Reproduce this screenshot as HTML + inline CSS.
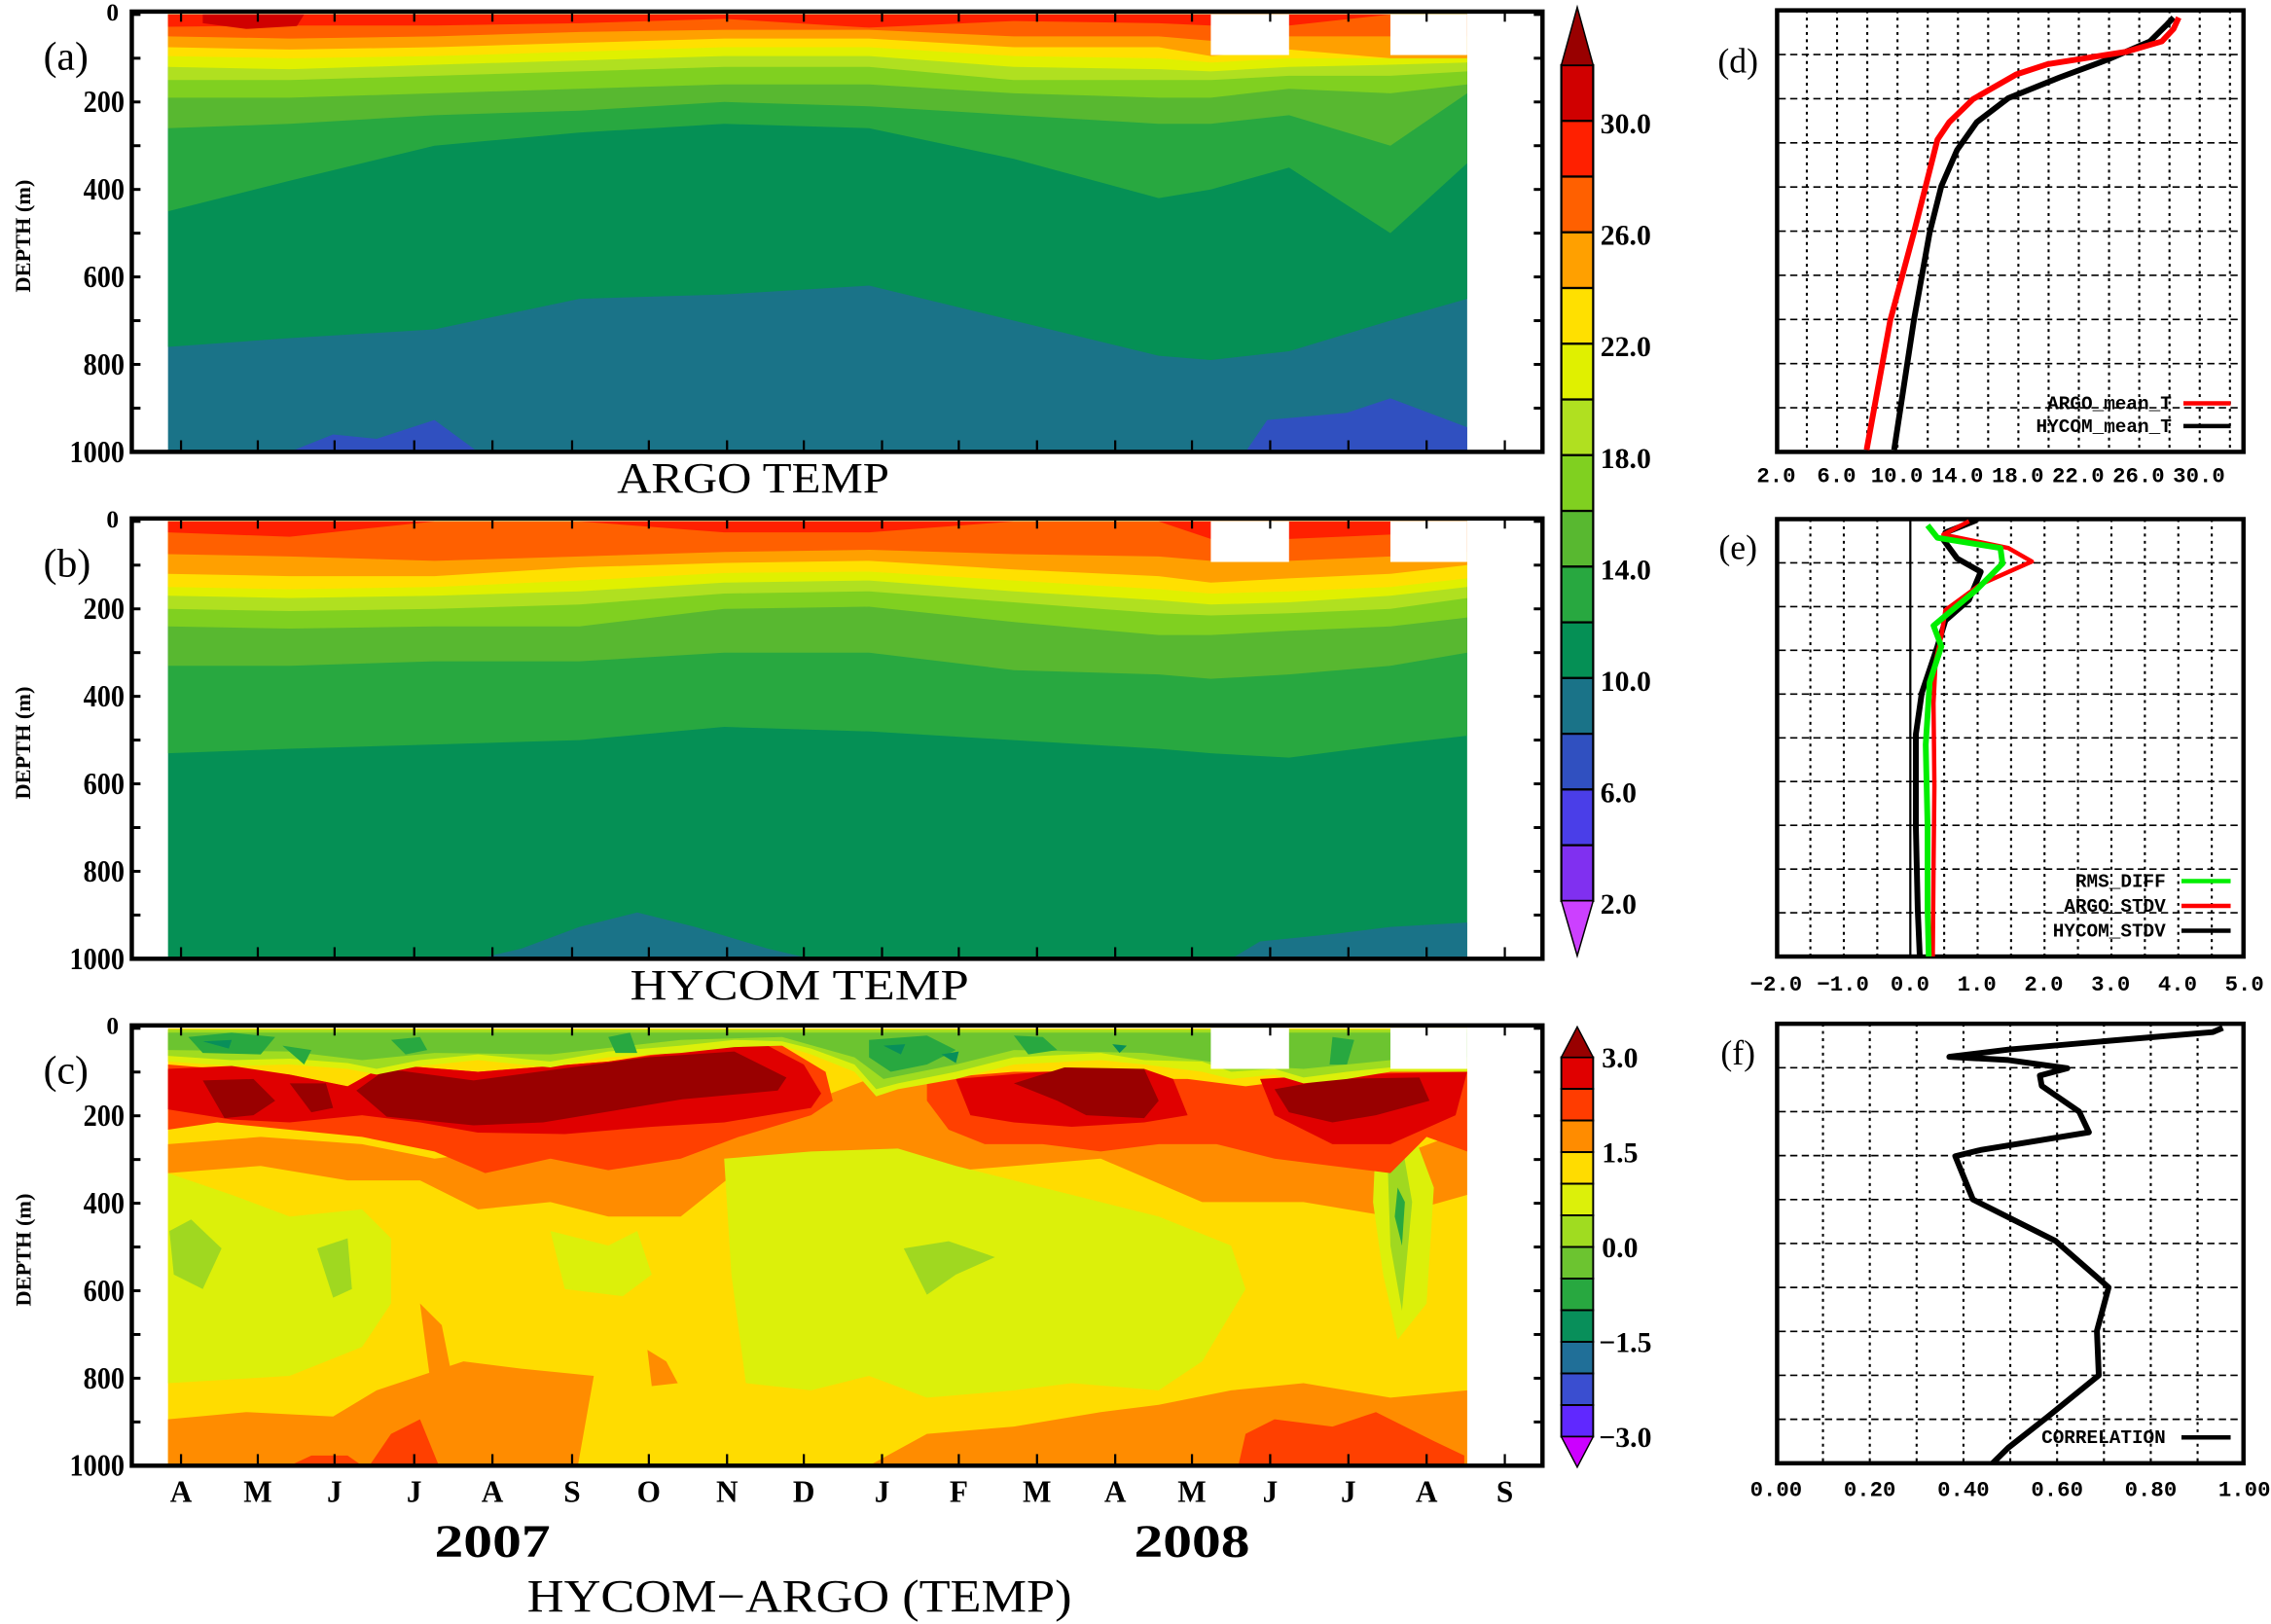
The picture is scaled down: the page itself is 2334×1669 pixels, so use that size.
<!DOCTYPE html>
<html><head><meta charset="utf-8"><style>
html,body{margin:0;padding:0;background:#fff;}
svg{display:block;}
text{font-family:"Liberation Serif",serif;fill:#000;}
.b{font-weight:bold;}
.m{font-family:"Liberation Mono",monospace;font-weight:bold;}
</style></head><body>
<svg id="s" width="2334" height="1669" viewBox="0 0 1568 1121.3" preserveAspectRatio="none" xmlns="http://www.w3.org/2000/svg"></svg>
<script>
var S=document.getElementById('s'),o='';
var XS=[116,200,300,400,500,600,700,800,836,890,960,1013];
function P(pts,c,extra){o+='<polygon points="'+pts.map(function(p){return p[0].toFixed(1)+','+p[1].toFixed(1)}).join(' ')+'" fill="'+c+'" '+(extra||'')+'/>';}
function layer(y0,ds,c){var pts=[[116,y0],[1013,y0]];for(var i=ds.length-1;i>=0;i--)pts.push([XS[i],y0+ds[i]*0.302]);P(pts,c);}
function T(x,y,s,t,cls,anc,ext){o+='<text x="'+x+'" y="'+y+'" font-size="'+s+'" class="'+(cls||'')+'" text-anchor="'+(anc||'start')+'" '+(ext||'')+'>'+t+'</text>';}
function L(x1,y1,x2,y2,w,c,ext){o+='<line x1="'+x1+'" y1="'+y1+'" x2="'+x2+'" y2="'+y2+'" stroke="'+(c||'#000')+'" stroke-width="'+w+'" '+(ext||'')+'/>';}
// ---------- panel a
var y0=10;
o+='<rect x="116" y="10" width="897" height="302" fill="#1a7388"/>';
layer(y0,[760,740,720,650,640,620,700,780,790,770,700,650],'#059055');
layer(y0,[450,380,300,270,250,260,330,420,400,350,500,340],'#28a840');
layer(y0,[260,250,230,220,200,210,230,250,250,230,300,180],'#58b830');
layer(y0,[190,190,180,170,160,160,180,190,190,170,180,160],'#80d020');
layer(y0,[150,150,140,130,120,120,150,150,150,140,140,130],'#b0e020');
layer(y0,[120,125,115,105,95,95,120,125,130,120,115,110],'#e0f000');
layer(y0,[95,100,95,85,75,75,95,100,110,100,100,100],'#ffe000');
layer(y0,[75,80,75,65,55,55,75,75,95,80,100,100],'#ffa000');
layer(y0,[50,55,50,40,35,35,50,50,60,50,50,50],'#ff6000');
layer(y0,[28,25,25,20,10,30,15,20,25,25,0,0],'#ff2000');
P([[140,10],[210,10],[205,18],[170,20],[140,16]],'#d00000');
P([[200,312],[230,300],[260,303],[300,290],[330,312]],'#3050c0');
P([[860,312],[875,290],[930,285],[960,275],[1013,295],[1013,312]],'#3050c0');
o+='<rect x="836" y="10" width="54" height="28" fill="#fff"/><rect x="960" y="10" width="53" height="28" fill="#fff"/>';
// ---------- panel b
y0=360;
o+='<rect x="116" y="360" width="897" height="302" fill="#059055"/>';
P([[330,662],[360,655],[400,640],[440,630],[480,640],[530,655],[560,662]],'#1a7388');
P([[850,662],[870,650],[920,645],[960,640],[1013,637],[1013,662]],'#1a7388');
layer(y0,[530,520,510,500,470,480,500,520,530,540,510,490],'#28a840');
layer(y0,[330,330,320,320,300,300,340,350,360,350,330,300],'#58b830');
layer(y0,[240,245,240,240,200,195,230,260,260,250,240,220],'#80d020');
layer(y0,[200,205,200,190,165,160,185,210,215,210,200,175],'#b0e020');
layer(y0,[170,175,170,160,140,135,160,180,190,185,170,150],'#e0f000');
layer(y0,[150,155,150,135,118,115,135,155,165,160,150,130],'#ffe000');
layer(y0,[120,125,125,105,95,90,110,125,140,130,120,100],'#ffa000');
layer(y0,[75,80,90,80,70,65,75,80,90,90,80,70],'#ff6000');
layer(y0,[25,35,0,0,25,25,0,0,40,40,30,0],'#ff2000');
o+='<rect x="836" y="360" width="54" height="28" fill="#fff"/><rect x="960" y="360" width="53" height="28" fill="#fff"/>';
// ---------- panel c
o+='<rect x="116" y="710" width="897" height="302" fill="#ffdc00"/>';
P([[116,790],[180,785],[250,790],[300,800],[380,790],[470,780],[560,760],[600,745],[660,750],[760,760],[860,775],[960,800],[1013,780],[1013,825],[960,840],[900,830],[830,830],[760,800],[700,805],[640,810],[580,800],[520,800],[470,840],[420,840],[380,830],[330,835],[290,815],[240,815],[180,805],[116,810]],'#ff8c00');
P([[116,810],[160,825],[200,840],[250,835],[270,855],[270,900],[250,930],[200,950],[116,955]],'#dcf00a');
P([[500,800],[560,795],[620,793],[660,805],[700,815],[760,830],[800,840],[850,860],[860,890],[830,940],[800,960],[740,955],[700,960],[640,965],[600,950],[560,960],[515,955],[505,880]],'#dcf00a');
P([[380,850],[420,860],[440,850],[450,880],[430,895],[390,890]],'#dcf00a');
P([[950,785],[975,780],[990,820],[985,900],[965,925],[955,880],[948,830]],'#dcf00a');
P([[117,850],[132,842],[153,862],[140,890],[120,880]],'#a0d820');
P([[219,862],[240,855],[243,890],[230,896]],'#a0d820');
P([[624,862],[655,857],[687,868],[660,880],[640,894]],'#a0d820');
P([[958,800],[968,790],[975,830],[968,905],[960,860]],'#a0d820');
P([[965,820],[970,830],[968,860],[963,840]],'#28a840');
// bottom orange
P([[116,980],[170,975],[230,978],[260,960],[290,950],[320,940],[360,945],[410,950],[399,1012],[116,1012]],'#ff8c00');
P([[600,1012],[640,990],[700,985],[760,975],[800,970],[850,960],[900,955],[960,965],[1013,960],[1013,1012]],'#ff8c00');
P([[290,900],[305,915],[315,965],[300,975]],'#ff8c00');
P([[447,932],[460,940],[468,955],[450,957]],'#ff8c00');
P([[255,1012],[270,990],[290,980],[303,1012]],'#ff4000');
P([[855,1012],[860,990],[880,980],[920,985],[950,975],[990,995],[1011,1005],[1011,1012]],'#ff4000');
P([[200,1012],[215,1005],[240,1005],[250,1012]],'#ff4000');
// upper red
P([[116,735],[200,742],[240,750],[267,735],[330,740],[420,733],[500,720],[540,722],[570,740],[575,760],[560,770],[510,785],[470,800],[420,808],[380,800],[335,810],[300,795],[250,785],[200,780],[150,775],[116,780]],'#ff4000');
P([[640,745],[700,740],[760,740],[800,745],[820,745],[860,750],[900,745],[960,740],[1013,740],[1013,795],[985,785],[960,810],[920,805],[880,800],[840,790],[800,790],[760,795],[720,790],[680,790],[655,780],[640,760]],'#ff4000');
P([[116,738],[160,736],[200,742],[240,750],[267,735],[330,740],[420,733],[500,722],[530,722],[555,735],[567,755],[560,765],[500,775],[450,778],[390,783],[330,782],[290,775],[250,770],[200,775],[160,773],[116,766]],'#e00000');
P([[660,745],[720,740],[790,738],[810,745],[820,770],[790,775],[740,778],[700,775],[670,770]],'#e00000');
P([[870,745],[920,742],[1013,740],[1005,770],[960,790],[920,790],[880,770]],'#e00000');
P([[140,746],[175,745],[190,760],[175,770],[155,772]],'#990000');
P([[200,748],[225,748],[230,765],[215,768]],'#990000');
P([[246,753],[267,738],[327,746],[447,730],[507,726],[543,744],[537,753],[471,759],[375,775],[327,777],[267,771]],'#990000');
P([[700,748],[735,737],[790,738],[800,760],[790,772],[750,770],[730,760]],'#990000');
P([[880,752],[920,745],[980,744],[987,760],[950,770],[920,775],[890,768]],'#990000');
// top green band
P([[116,711],[1013,711],[1013,740],[960,740],[930,745],[900,748],[880,742],[850,745],[830,740],[790,735],[760,732],[700,735],[660,745],[620,752],[605,757],[590,740],[560,728],[540,722],[507,723],[470,727],[420,730],[380,737],[330,732],[290,736],[260,742],[240,738],[200,735],[160,736],[116,733]],'#dcf00a');
P([[116,711],[1013,711],[1013,735],[960,737],[930,740],[900,744],[880,738],[850,740],[830,733],[790,732],[760,727],[700,730],[660,740],[620,748],[605,752],[590,735],[560,724],[540,719],[507,718],[470,722],[420,726],[380,733],[330,728],[290,732],[260,738],[240,734],[200,731],[160,732],[116,729]],'#a0dc20');
P([[116,713],[1013,713],[1013,730],[960,732],[900,738],[850,735],[790,727],[700,725],[660,735],[610,745],[590,730],[540,716],[470,718],[380,728],[300,727],[250,732],[200,726],[116,725]],'#6cc430');
[[[130,716],[160,713],[190,716],[180,728],[140,727]],[[270,718],[290,716],[295,725],[280,728]],[[420,716],[435,713],[440,727],[425,727]],[[600,718],[640,715],[660,725],[640,735],[615,740],[600,730]],[[700,715],[720,716],[730,725],[710,728]],[[850,714],[875,714],[880,735],[855,738],[850,725]],[[920,716],[935,718],[930,735],[918,735]],[[195,722],[215,725],[210,735]]].forEach(function(p){P(p,'#28a840')});
[[[140,719],[160,718],[158,724]],[[610,722],[625,721],[622,728]],[[650,728],[662,726],[660,734]],[[768,721],[778,722],[773,727]]].forEach(function(p){P(p,'#088f5a')});
o+='<rect x="836" y="710" width="54" height="28" fill="#fff"/><rect x="960" y="710" width="53" height="28" fill="#fff"/>';
// ---------- frames, ticks for left panels
var MX=[125,178,231,286,340,395,448,502,555,609,662,716,770,823,877,931,985,1039];
var ML=['A','M','J','J','A','S','O','N','D','J','F','M','A','M','J','J','A','S'];
[[8,'(a)',40,'ARGO TEMP',340],[358,'(b)',390,'HYCOM TEMP',690],[708,'(c)',740,'',0]].forEach(function(p,k){
 var t=p[0];o+='<rect x="91" y="'+t+'" width="974" height="304" fill="none" stroke="#000" stroke-width="3"/>';
 MX.forEach(function(x){L(x,t,x,t+7,1.5);L(x,t+304,x,t+296,1.5);});
 for(var d=0;d<=1000;d+=100){var y=t+2+d*0.302;L(91,y,97,y,2);L(1065,y,1059,y,2);}
 ['200','400','600','800','1000'].forEach(function(s,i){T(86,t+2+(i+1)*60.4+7,21,s,'b','end','transform="" textLength="'+(s.length*9.5)+'" lengthAdjust="spacingAndGlyphs"');});
 T(82,t+6,17,'0','b','end');
 T(30,p[2]+8,28,p[1],'','start');
 T(21,t+155,15,'DEPTH (m)','b','middle','transform="rotate(-90 21 '+(t+155)+')"');
 if(p[3])T(520+(k?32:0),p[4],30,p[3],'','middle','textLength="'+(k?234:188)+'" lengthAdjust="spacingAndGlyphs"');
});
MX.forEach(function(x,i){T(x,1037,21,ML[i],'b','middle');});
T(340,1075,32,'2007','b','middle','textLength="80" lengthAdjust="spacingAndGlyphs"');
T(823,1075,32,'2008','b','middle','textLength="80" lengthAdjust="spacingAndGlyphs"');
T(552,1113,32,'HYCOM−ARGO (TEMP)','','middle','textLength="376" lengthAdjust="spacingAndGlyphs"');
// ---------- colorbars
var C1=['#d00000','#ff2000','#ff6000','#ffa000','#ffe000','#e0f000','#b0e020','#80d020','#58b830','#28a840','#059055','#1a7388','#3050c0','#4a3ee8','#8030f0'];
C1.forEach(function(c,i){o+='<rect x="1078" y="'+(45+i*38.47)+'" width="22" height="38.47" fill="'+c+'" stroke="#000" stroke-width="1.5"/>';});
P([[1078,45],[1089,5],[1100,45]],'#990000','stroke="#000" stroke-width="1"');
P([[1078,622],[1089,660],[1100,622]],'#cc40ff','stroke="#000" stroke-width="1"');
['30.0','26.0','22.0','18.0','14.0','10.0','6.0','2.0'].forEach(function(s,i){T(1105,85+i*77+7,20,s,'b','start');});
var C2=['#e00000','#ff3c00','#ff8c00','#ffdc00','#dcf00a','#a0dc20','#6cc430','#28a840','#088f5a','#206f98','#3a4ed0','#6028ff'];
C2.forEach(function(c,i){o+='<rect x="1078" y="'+(730+i*21.83)+'" width="22" height="21.83" fill="'+c+'" stroke="#000" stroke-width="1.3"/>';});
P([[1078,730],[1089,709],[1100,730]],'#990000','stroke="#000" stroke-width="1"');
P([[1078,992],[1089,1013],[1100,992]],'#cc00ff','stroke="#000" stroke-width="1"');
['3.0','1.5','0.0','−1.5','−3.0'].forEach(function(s,i){T(s[0]=='−'?1104:1106,730+i*65.5+7,20,s,'b','start');});
// ---------- right panels
function rx(z){return 1142.1+z*0.2717;} function ry(z){return z*0.714;}
function line(pts,c,w){o+='<polyline points="'+pts.map(function(p){return rx(p[0]).toFixed(1)+','+ry(p[1]).toFixed(1)}).join(' ')+'" fill="none" stroke="'+c+'" stroke-width="'+w+'" stroke-linejoin="round"/>';}
function frame(zt,zb,vgrid){var t=ry(zt),b=ry(zb);
 vgrid.forEach(function(z){L(rx(z),t,rx(z),b,1.4,'#000','stroke-dasharray="2,3"');});
 for(var i=1;i<10;i++){var y=t+(b-t)*i/10;L(1228,y,1550,y,1.1,'#000','stroke-dasharray="5,3"');}
 o+='<rect x="1227" y="'+t+'" width="322" height="'+(b-t)+'" fill="none" stroke="#000" stroke-width="3"/>';}
var g1=[];for(var z=388;z<1500;z+=76.8)g1.push(z);
frame(10,437,g1);
line([[1320,17],[1300,25],[1260,40],[1150,58],[1030,75],[900,95],[820,118],[770,145],[730,180],[700,225],[660,310],[610,435]],'#000',4);
line([[1333,17],[1320,28],[1290,40],[1200,50],[1000,62],[920,72],[810,96],[750,118],[720,135],[690,180],[660,225],[600,310],[540,435]],'#ff0000',4);
T(rx(1315),ry(390)+4,13,'ARGO_mean_T','m','end');L(rx(1345),ry(390),rx(1465),ry(390),3,'#ff0000');
T(rx(1315),ry(412)+4,13,'HYCOM_mean_T','m','end');L(rx(1345),ry(412),rx(1465),ry(412),3,'#000');
['2.0','6.0','10.0','14.0','18.0','22.0','26.0','30.0'].forEach(function(s,i){T(rx(310+i*153.5),333,15,s,'m','middle');});
T(1200,50,24,'(d)','','middle');
var g2=[];for(var z=397;z<1500;z+=85)if(Math.abs(z-651)>5)g2.push(z);
frame(502,925,g2);L(rx(651),ry(502),rx(651),ry(925),1.5);
line([[820,503],[740,515],[735,522],[770,540],[830,553],[800,580],[740,600],[720,625],[680,670],[665,710],[665,800],[670,880],[675,925]],'#000',4);
line([[800,504],[735,517],[900,530],[960,543],[830,565],[740,590],[730,615],[715,640],[710,680],[712,760],[710,840],[708,925]],'#ff0000',3);
line([[695,508],[720,520],[880,530],[885,545],[820,570],[710,605],[730,625],[700,660],[690,720],[695,800],[695,880],[698,925]],'#00ee00',4);
[['RMS_DIFF','#00ee00',852],['ARGO_STDV','#ff0000',876],['HYCOM_STDV','#000',900]].forEach(function(p){T(rx(1300),ry(p[2])+4,13,p[0],'m','end');L(rx(1340),ry(p[2]),rx(1465),ry(p[2]),3,p[1]);});
['−2.0','−1.0','0.0','1.0','2.0','3.0','4.0','5.0'].forEach(function(s,i){T(rx(310+i*170),684,15,s,'m','middle');});
T(1200,386,24,'(e)','','middle');
var g3=[];for(var z=429;z<1500;z+=119)g3.push(z);
frame(990,1415,g3);
line([[1445,994],[1420,998],[1200,1005],[900,1015],[750,1022],[900,1025],[1050,1033],[980,1040],[985,1050],[1080,1075],[1105,1095],[830,1112],[765,1118],[810,1160],[1020,1200],[1155,1245],[1125,1287],[1130,1330],[1000,1370],[900,1400],[860,1415]],'#000',4);
T(rx(1300),ry(1390)+4,13,'CORRELATION','m','end');L(rx(1340),ry(1390),rx(1465),ry(1390),3,'#000');
['0.00','0.20','0.40','0.60','0.80','1.00'].forEach(function(s,i){T(rx(310+i*238),1033,15,s,'m','middle');});
T(1200,735,24,'(f)','','middle');
S.innerHTML=o;
</script>
</body></html>
